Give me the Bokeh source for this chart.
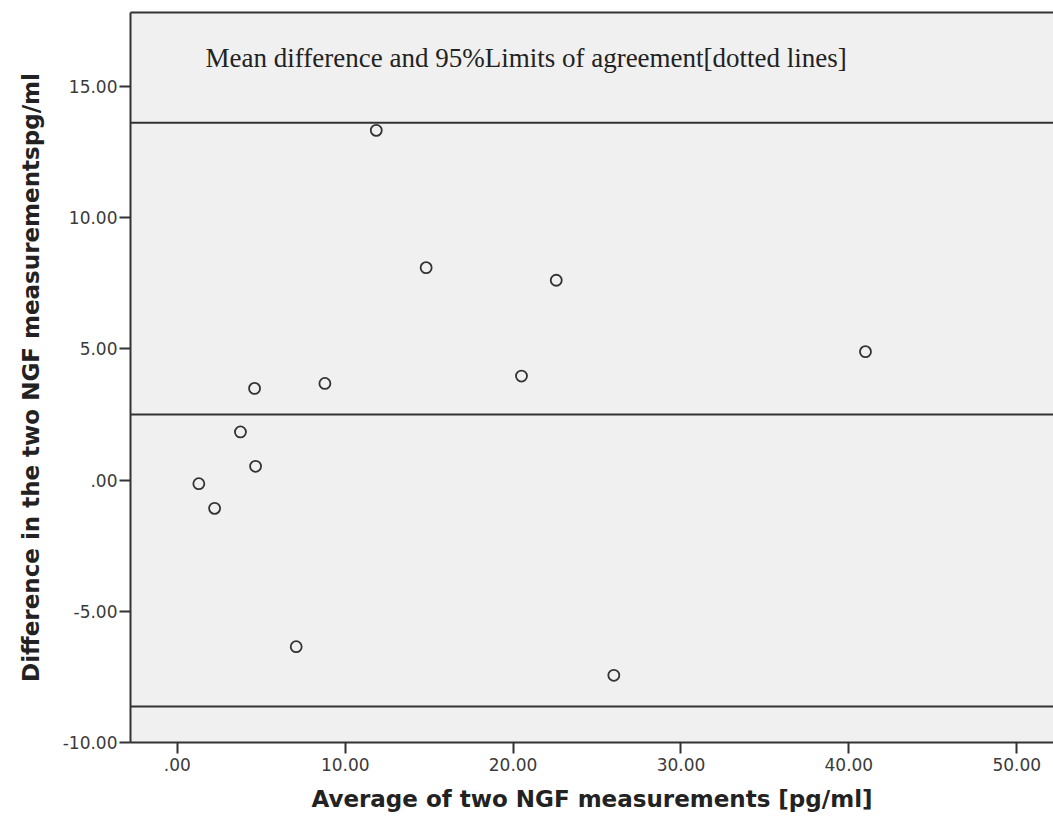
import numpy as np
from bokeh.plotting import figure
from bokeh.models import (ColumnDataSource, Span, Label, LinearAxis, FixedTicker,
                          CustomJSTickFormatter, Range1d)
from bokeh.embed import file_html
from bokeh.resources import INLINE

# Average of the two NGF measurements (pg/ml) and their difference
avg_ngf = [1.28, 2.22, 3.76, 4.60, 4.66, 7.08, 8.79, 11.85, 14.82, 20.50, 22.57, 26.00, 40.99]
diff_ngf = [-0.14, -1.08, 1.83, 3.49, 0.52, -6.35, 3.68, 13.32, 8.09, 3.96, 7.61, -7.44, 4.89]

x_ticks = [0, 10, 20, 30, 40, 50]
y_ticks = [-10, -5, 0, 5, 10, 15]

note_text = "Mean difference and 95%Limits of agreement[dotted lines]"
x_title = "Average of two NGF measurements [pg/ml]"
y_title = "Difference in the two NGF measurementspg/ml"

# Bland-Altman mean difference and 95% limits of agreement
d = np.array(diff_ngf)
mean_diff = d.mean()
sd_diff = d.std(ddof=1)
limits = [mean_diff + 1.96 * sd_diff, mean_diff, mean_diff - 1.96 * sd_diff]

INK = "#333333"
TICK_FONT = "DejaVu Sans"

p = figure(width=1053, height=816, output_backend="svg", toolbar_location=None,
           x_range=Range1d(-2.79, 52.19), y_range=Range1d(-10, 17.81),
           min_border_left=130, min_border_right=0, min_border_top=12,
           min_border_bottom=74, x_axis_location=None, y_axis_location=None)
p.background_fill_color = "#f0f0f0"
p.border_fill_color = "white"
p.outline_line_color = None
p.xgrid.visible = False
p.ygrid.visible = False

fmt = CustomJSTickFormatter(code="""
    return tick.toFixed(2).replace(/^(-?)0\\./, '$1.');
""")

def style_axis(ax):
    ax.axis_line_color = INK
    ax.axis_line_width = 2
    ax.major_tick_line_color = INK
    ax.major_tick_line_width = 2
    ax.major_tick_in = 0
    ax.major_tick_out = 11
    ax.minor_tick_line_color = None
    ax.major_label_text_font = TICK_FONT
    ax.major_label_text_font_size = "17px"
    ax.major_label_text_color = "#3a3a3a"
    ax.axis_label_text_font = TICK_FONT
    ax.axis_label_text_font_style = "bold"
    ax.axis_label_text_font_size = "23px"
    ax.axis_label_text_color = "#222222"

xax = LinearAxis(ticker=FixedTicker(ticks=x_ticks), formatter=fmt, axis_label=x_title)
style_axis(xax)
xax.major_label_standoff = 4
xax.axis_label_standoff = 12
p.add_layout(xax, "below")

yax = LinearAxis(ticker=FixedTicker(ticks=y_ticks), formatter=fmt, axis_label=y_title)
style_axis(yax)
yax.major_label_standoff = 2
yax.axis_label_standoff = 16
p.add_layout(yax, "left")

# top frame edge only (no right edge)
top = LinearAxis(ticker=FixedTicker(ticks=[]), axis_line_color=INK, axis_line_width=2,
                 major_tick_line_color=None, minor_tick_line_color=None,
                 major_label_text_font_size="0px")
p.add_layout(top, "above")

for v in limits:
    p.add_layout(Span(location=v, dimension="width", line_color=INK, line_width=2))

src = ColumnDataSource(dict(x=avg_ngf, y=diff_ngf))
p.scatter("x", "y", source=src, marker="circle", size=11, fill_color=None,
          line_color=INK, line_width=1.8)

p.add_layout(Label(x=1.68, y=16.08, text=note_text, text_baseline="middle",
                   text_font="Liberation Serif", text_font_size="27px",
                   text_color="#222222"))

open("out.html", "w").write(file_html(p, INLINE))
